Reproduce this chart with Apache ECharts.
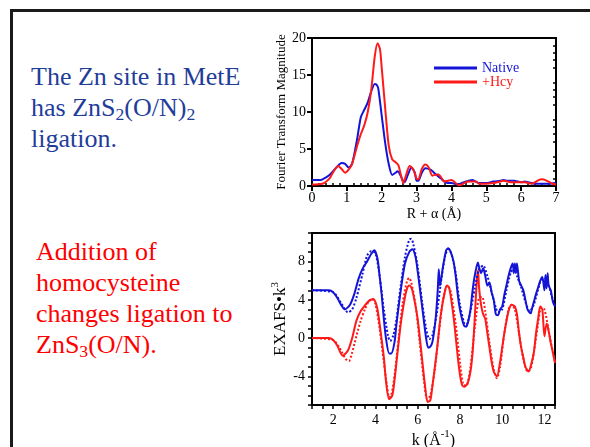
<!DOCTYPE html>
<html>
<head>
<meta charset="utf-8">
<script src="https://cdn.jsdelivr.net/npm/echarts@6/dist/echarts.min.js"></script>
<style>
  html, body { margin: 0; padding: 0; background: #fff; }
  #page { position: relative; width: 590px; height: 447px; overflow: hidden; font-family: 'Liberation Serif', 'Times New Roman', serif; }
  #chart { position: absolute; left: 0; top: 0; width: 590px; height: 447px; }
  .rule { position: absolute; background: #1a1a1a; }
  .note { position: absolute; font-size: 26px; line-height: 31px; white-space: nowrap; }
  .note sub { font-size: 0.68em; vertical-align: -0.22em; line-height: 0; }
</style>
</head>
<body>
<div id="page">
  <div class="rule" style="left:10px; top:9px; width:580px; height:3px"></div>
  <div class="rule" style="left:10px; top:9px; width:3px; height:438px"></div>
  <div class="note" style="left:31px; top:61px; color:#1f3d99">The Zn site in MetE<br>has ZnS<sub>2</sub>(O/N)<sub>2</sub><br>ligation.</div>
  <div class="note" style="left:36px; top:236px; color:#ff0000">Addition of<br>homocysteine<br>changes ligation to<br>ZnS<sub>3</sub>(O/N).</div>
  <div id="chart"></div>
</div>
<script>
// Fourier transform (top panel)
const ftNativeR = [0, 0.2, 0.3, 0.5, 0.7, 0.85, 0.95, 1.05, 1.15, 1.3, 1.4, 1.5, 1.6, 1.7, 1.8, 1.85, 1.9, 2.0, 2.1, 2.2, 2.3, 2.4, 2.45, 2.5, 2.6, 2.65, 2.75, 2.85, 2.95, 3.0, 3.05, 3.15, 3.25, 3.4, 3.5, 3.6, 3.7, 3.8, 3.9, 4.0, 4.1, 4.2, 4.3, 4.5, 4.6, 4.7, 4.8, 5.0, 5.2, 5.4, 5.5, 5.6, 5.8, 6.0, 6.1, 6.2, 6.4, 6.6, 6.8, 7.0]
const ftNative = [0.8, 0.8, 0.9, 1.5, 2.5, 3.1, 3.0, 2.5, 3.0, 6.5, 9.3, 10.3, 11.3, 12.8, 13.8, 13.7, 13.2, 9.5, 5.8, 3.0, 1.5, 1.8, 2.0, 1.8, 0.8, 0.5, 1.5, 2.5, 1.8, 0.7, 0.7, 1.8, 2.4, 2.2, 1.8, 1.4, 1.0, 0.6, 0.4, 0.4, 0.3, 0.2, 0.4, 0.7, 0.8, 0.6, 0.4, 0.4, 0.6, 0.7, 0.8, 0.7, 0.7, 0.5, 0.6, 0.5, 0.3, 0.3, 0.3, 0.4]
const ftHcyR = [0, 0.3, 0.5, 0.6, 0.75, 0.85, 0.95, 1.05, 1.15, 1.3, 1.4, 1.5, 1.6, 1.7, 1.8, 1.88, 1.95, 2.0, 2.1, 2.2, 2.3, 2.4, 2.48, 2.55, 2.62, 2.7, 2.8, 2.9, 3.0, 3.05, 3.15, 3.25, 3.35, 3.45, 3.55, 3.62, 3.7, 3.8, 3.9, 4.0, 4.1, 4.2, 4.3, 4.4, 4.5, 4.7, 4.8, 5.0, 5.2, 5.4, 5.5, 5.7, 5.9, 6.1, 6.3, 6.5, 6.6, 6.7, 6.9, 7.0]
const ftHcy = [0.2, 0.3, 1.0, 1.8, 2.7, 2.3, 1.8, 2.2, 3.0, 5.5, 7.0, 8.2, 10.0, 13.0, 17.5, 19.3, 18.5, 16.0, 10.5, 5.5, 3.6, 3.2, 2.8, 1.5, 0.4, 1.5, 2.7, 2.3, 1.0, 0.9, 2.3, 2.9, 2.5, 1.4, 1.5, 1.6, 1.2, 0.6, 0.7, 0.8, 0.5, 0.1, 0.2, 0.5, 0.6, 0.6, 0.3, 0.3, 0.4, 0.6, 0.7, 0.5, 0.5, 0.5, 0.3, 0.8, 0.9, 0.8, 0.3, 0.2]

// EXAFS (bottom panel): solid = data, dotted = fit
const exNativeK = [1, 1.8, 2.0, 2.2, 2.4, 2.55, 2.8, 3.0, 3.2, 3.4, 3.6, 3.8, 3.95, 4.1, 4.2, 4.3, 4.4, 4.5, 4.65, 4.75, 4.9, 5.0, 5.2, 5.4, 5.6, 5.75, 5.9, 6.0, 6.2, 6.4, 6.5, 6.6, 6.7, 6.85, 6.95, 7.0, 7.05, 7.1, 7.2, 7.35, 7.45, 7.55, 7.7, 7.8, 7.9, 8.0, 8.1, 8.2, 8.3, 8.4, 8.5, 8.6, 8.7, 8.85, 8.9, 9.0, 9.1, 9.2, 9.3, 9.4, 9.5, 9.6, 9.7, 9.8, 9.9, 10.0, 10.1, 10.2, 10.3, 10.4, 10.5, 10.55, 10.6, 10.65, 10.7, 10.8, 10.9, 11.0, 11.1, 11.2, 11.35, 11.4, 11.5, 11.6, 11.7, 11.8, 11.9, 12.0, 12.05, 12.1, 12.15, 12.2, 12.3, 12.4, 12.5]
const exNative = [5.0, 5.0, 4.8, 4.2, 3.4, 3.0, 3.5, 4.6, 6.2, 7.3, 8.0, 8.8, 9.2, 8.3, 6.5, 4.5, 2.0, 0.0, -1.6, -1.6, -0.5, 1.5, 5.0, 7.8, 9.0, 9.3, 8.5, 7.0, 3.5, 0.0, -1.0, -0.9, -0.4, 2.0, 5.0, 7.2, 5.5, 6.0, 7.5, 9.2, 9.4, 9.1, 8.0, 6.5, 4.5, 3.0, 2.0, 1.3, 1.2, 1.8, 3.0, 5.0, 6.5, 7.9, 7.5, 6.8, 7.3, 6.5, 5.5, 5.8, 4.8, 4.0, 2.5, 2.4, 3.0, 3.3, 4.5, 5.5, 6.5, 7.3, 7.8, 6.8, 7.8, 6.9, 7.8, 6.0, 5.5, 5.0, 4.0, 3.0, 2.6, 3.0, 3.8, 4.6, 5.3, 6.0, 6.4, 5.0, 6.6, 5.2, 6.8, 5.5, 5.0, 3.8, 3.3]
const fitNativeK = [1, 2.0, 2.4, 2.7, 2.9, 3.1, 3.4, 3.6, 3.8, 4.0, 4.2, 4.4, 4.6, 4.7, 4.85, 5.0, 5.2, 5.4, 5.6, 5.7, 5.8, 6.0, 6.2, 6.4, 6.55, 6.7, 6.9, 7.1, 7.3, 7.45, 7.6, 7.8, 8.0, 8.2, 8.3, 8.5, 8.7, 8.9, 9.1, 9.3, 9.5, 9.7, 9.8, 10.0, 10.2, 10.4, 10.55, 10.7, 10.9, 11.1, 11.3, 11.5, 11.8, 12.0, 12.2, 12.4, 12.5]
const fitNative = [5.0, 4.8, 3.6, 2.7, 3.0, 4.2, 6.8, 8.6, 9.1, 8.9, 6.5, 3.0, 0.2, -0.3, 0.3, 2.0, 5.5, 8.5, 10.3, 10.4, 9.8, 7.5, 4.0, 1.0, -0.1, 0.3, 2.5, 5.8, 8.6, 9.3, 8.8, 6.8, 3.5, 1.6, 1.4, 2.8, 5.2, 7.2, 7.6, 6.5, 4.8, 3.2, 2.7, 3.0, 5.0, 6.8, 7.3, 6.5, 5.3, 3.8, 2.8, 3.5, 5.8, 6.3, 5.5, 4.0, 3.5]
const exHcyK = [1, 1.8, 2.0, 2.2, 2.45, 2.7, 2.9, 3.1, 3.3, 3.5, 3.7, 3.9, 4.0, 4.1, 4.2, 4.4, 4.5, 4.65, 4.8, 4.9, 5.0, 5.2, 5.4, 5.5, 5.6, 5.7, 5.8, 6.0, 6.2, 6.35, 6.47, 6.6, 6.7, 6.9, 7.1, 7.3, 7.4, 7.5, 7.7, 7.9, 8.0, 8.1, 8.2, 8.35, 8.5, 8.6, 8.7, 8.8, 8.86, 8.9, 9.0, 9.1, 9.2, 9.3, 9.4, 9.5, 9.6, 9.75, 9.9, 10.0, 10.1, 10.3, 10.45, 10.6, 10.7, 10.8, 10.9, 11.0, 11.1, 11.25, 11.4, 11.5, 11.6, 11.7, 11.8, 11.9, 12.0, 12.1, 12.15, 12.3, 12.4, 12.5]
const exHcy = [0, 0, -0.2, -0.8, -1.85, -1.3, 0.0, 1.8, 2.8, 3.4, 3.9, 4.1, 3.8, 3.0, 1.5, -2.0, -4.5, -6.4, -6.0, -4.5, -2.5, 1.5, 4.3, 5.2, 5.5, 5.3, 4.5, 2.0, -2.0, -5.0, -6.7, -6.5, -5.0, -1.5, 2.5, 5.0, 5.5, 5.2, 2.2, -2.0, -3.8, -4.9, -5.1, -4.8, -3.5, -1.5, 2.0, 6.0, 7.1, 5.5, 3.5, 2.5, 2.0, 0.5, -1.0, -2.5, -3.5, -4.0, -2.5, -1.0, 0.5, 2.8, 3.5, 3.3, 2.5, 0.5, -1.0, -2.0, -3.0, -3.5, -2.5, -1.5, 0.5, 2.0, 3.3, 3.0, 0.2, 1.5, 1.3, -0.5, -1.5, -2.6]
const fitHcyK = [1, 2.0, 2.3, 2.6, 2.75, 2.9, 3.1, 3.3, 3.5, 3.7, 3.85, 4.0, 4.2, 4.4, 4.55, 4.65, 4.75, 4.9, 5.1, 5.3, 5.5, 5.6, 5.7, 5.9, 6.1, 6.3, 6.45, 6.6, 6.8, 7.0, 7.2, 7.4, 7.55, 7.8, 8.0, 8.15, 8.3, 8.5, 8.7, 8.9, 9.05, 9.2, 9.4, 9.6, 9.75, 9.9, 10.1, 10.3, 10.45, 10.6, 10.8, 11.0, 11.2, 11.35, 11.5, 11.7, 11.85, 12.0, 12.2, 12.4, 12.5]
const fitHcy = [0, -0.2, -1.0, -2.2, -2.4, -1.5, 0.2, 1.8, 3.0, 3.9, 4.1, 3.6, 1.0, -2.5, -5.0, -6.2, -6.0, -4.0, 0.0, 3.8, 6.0, 6.3, 5.8, 3.5, -0.5, -4.5, -6.4, -6.0, -3.5, 0.5, 4.0, 5.5, 5.0, 1.5, -2.5, -4.8, -5.0, -3.0, 1.0, 4.2, 4.3, 2.8, -0.5, -3.3, -4.2, -3.0, 0.5, 3.0, 3.5, 3.0, 0.5, -2.2, -3.5, -3.2, -1.5, 1.5, 3.2, 3.0, 0.8, -1.5, -2.5]

const BLUE = '#1414d8'
const RED = '#ff1a1a'
const FONT = "'Liberation Serif', 'Times New Roman', serif"

const pairs = (xs, ys) => xs.map((x, i) => [x, ys[i]])

const axisText = { color: '#000', fontFamily: FONT, fontSize: 14 }
const blackLine = { color: '#000', width: 2 }

function lineSeries(name, xs, ys, color, dotted, axisIdx) {
  return {
    name,
    type: 'line',
    xAxisIndex: axisIdx,
    yAxisIndex: axisIdx,
    data: pairs(xs, ys),
    showSymbol: false,
    symbol: 'none',
    smooth: 0.25,
    lineStyle: { color, width: 2, type: dotted ? [2, 2] : 'solid' },
    itemStyle: { color },
    z: dotted ? 3 : 2,
  }
}

const chart = echarts.init(document.getElementById('chart'), null, { renderer: 'canvas' })

chart.setOption({
  animation: false,
  grid: [
    { left: 312, top: 38, width: 244, height: 148, show: true, borderColor: '#000', borderWidth: 2, containLabel: false, outerBoundsMode: 'none' },
    { left: 312, top: 233, width: 243, height: 172, show: true, borderColor: '#000', borderWidth: 2, containLabel: false, outerBoundsMode: 'none' },
  ],
  legend: {
    orient: 'vertical',
    left: 429,
    top: 56,
    itemWidth: 43,
    itemHeight: 3,
    itemGap: 0,
    icon: 'rect',
    textStyle: { fontFamily: FONT, fontSize: 14, lineHeight: 14 },
    data: [
      { name: 'Native', textStyle: { color: BLUE } },
      { name: '+Hcy', textStyle: { color: RED } },
    ],
  },
  xAxis: [
    {
      gridIndex: 0, type: 'value', min: 0, max: 7, interval: 1, position: 'bottom',
      name: 'R + α (Å)', nameLocation: 'middle', nameGap: 21,
      nameTextStyle: { color: '#000', fontFamily: FONT, fontSize: 14 },
      axisLine: { onZero: false, lineStyle: blackLine },
      axisTick: { length: 5, lineStyle: blackLine },
      axisLabel: { ...axisText, margin: 5 },
      splitLine: { show: false },
    },
    {
      gridIndex: 0, type: 'value', min: 0, max: 7, interval: 1, position: 'bottom',
      axisLine: { show: false, onZero: false },
      axisTick: { show: false, inside: true },
      minorTick: { show: true, splitNumber: 5, length: 3, lineStyle: { color: '#000', width: 1.5 } },
      axisLabel: { show: false },
      splitLine: { show: false },
    },
    {
      gridIndex: 1, type: 'value', min: 1, max: 12.5, interval: 0.5, position: 'bottom',
      name: '{b|k (Å}{s|-1}{b|)}', nameLocation: 'middle', nameGap: 24,
      nameTextStyle: {
        color: '#000', fontFamily: FONT, fontSize: 16,
        rich: {
          b: { fontFamily: FONT, fontSize: 16, lineHeight: 20, verticalAlign: 'bottom', color: '#000' },
          s: { fontFamily: FONT, fontSize: 11, lineHeight: 11, verticalAlign: 'top', color: '#000' },
        },
      },
      axisLine: { onZero: false, lineStyle: blackLine },
      axisTick: { length: 4, lineStyle: { color: '#000', width: 1.5 } },
      axisLabel: { ...axisText, margin: 8, formatter: v => (v % 2 === 0 ? String(v) : '') },
      splitLine: { show: false },
    },
  ],
  yAxis: [
    {
      gridIndex: 0, type: 'value', min: 0, max: 20, interval: 5,
      name: 'Fourier Transform Magnitude', nameLocation: 'middle', nameGap: 24,
      nameTextStyle: { color: '#000', fontFamily: FONT, fontSize: 13 },
      axisLine: { onZero: false, lineStyle: blackLine },
      axisTick: { length: 5, lineStyle: blackLine },
      axisLabel: { ...axisText, margin: 6 },
      splitLine: { show: false },
    },
    {
      gridIndex: 0, type: 'value', min: 0, max: 20, interval: 5,
      axisLine: { show: false, onZero: false },
      axisTick: { show: false, inside: true },
      minorTick: { show: true, splitNumber: 5, length: 3, lineStyle: { color: '#000', width: 1.5 } },
      axisLabel: { show: false },
      splitLine: { show: false },
    },
    {
      gridIndex: 1, type: 'value', min: -7, max: 11, interval: 1,
      name: '{b|EXAFS•k}{s|3}', nameLocation: 'middle', nameGap: 22,
      nameTextStyle: {
        color: '#000', fontFamily: FONT, fontSize: 17,
        rich: {
          b: { fontFamily: FONT, fontSize: 17, lineHeight: 20, verticalAlign: 'bottom', color: '#000' },
          s: { fontFamily: FONT, fontSize: 11, lineHeight: 11, verticalAlign: 'top', color: '#000' },
        },
      },
      axisLine: { onZero: false, lineStyle: blackLine },
      axisTick: { length: 4, lineStyle: { color: '#000', width: 1.5 } },
      axisLabel: { ...axisText, margin: 7, formatter: v => (v % 4 === 0 ? String(v) : '') },
      splitLine: { show: false },
    },
  ],
  series: [
    lineSeries('Native', ftNativeR, ftNative, BLUE, false, 0),
    lineSeries('+Hcy', ftHcyR, ftHcy, RED, false, 0),
    lineSeries('Native data', exNativeK, exNative, BLUE, false, 2),
    lineSeries('Native fit', fitNativeK, fitNative, BLUE, true, 2),
    lineSeries('+Hcy data', exHcyK, exHcy, RED, false, 2),
    lineSeries('+Hcy fit', fitHcyK, fitHcy, RED, true, 2),
  ],
})
</script>
</body>
</html>
